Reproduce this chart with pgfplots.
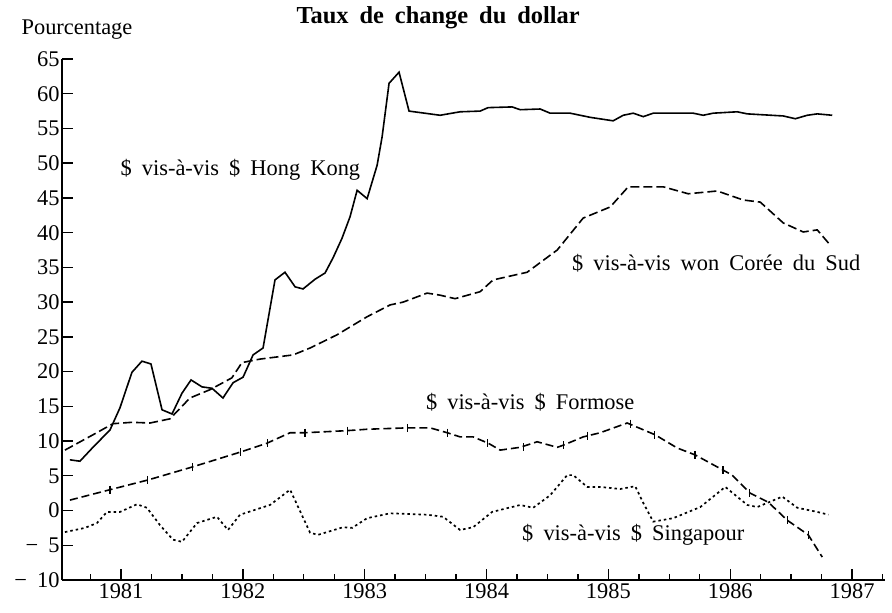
\documentclass[border=0pt]{standalone}
\usepackage{pgfplots}
\pgfplotsset{compat=1.18}
\usepackage{fontspec}
\setmainfont{Liberation Serif}[WordSpace=1.8]
\newcommand\fs{\fontsize{22.5}{26}\selectfont}
\begin{document}
\begin{tikzpicture}
\begin{axis}[
  at={(0,0)}, anchor=south west,
  scale only axis, width=823bp, height=521bp,
  xmin=1980.516, xmax=1987.27, ymin=-10, ymax=65,
  axis lines*=left,
  axis line style={line width=2bp},
  xtick={1981,1982,1983,1984,1985,1986,1987},
  minor xtick={1980.75,1981.25,1981.5,1981.75,1982.25,1982.5,1982.75,1983.25,1983.5,1983.75,1984.25,1984.5,1984.75,1985.25,1985.5,1985.75,1986.25,1986.5,1986.75,1987.25},
  ytick={-10,-5,0,5,10,15,20,25,30,35,40,45,50,55,60,65},
  yticklabels={{−\ 10},{−\ 5},0,5,10,15,20,25,30,35,40,45,50,55,60,65},
  tick align=inside,
  major tick length=11bp, minor tick length=6bp,
  tick style={line width=1.4bp, black},
  ticklabel style={font=\fs},
  yticklabel style={xshift=1bp},
  /pgf/number format/assume math mode=true,
  /pgf/number format/1000 sep={},
  clip=false,
]
% Hong Kong
\addplot[black, line width=1.6bp] table {
1980.581 7.3
1980.663 7.1
1980.770 9.1
1980.910 11.6
1980.992 14.8
1981.090 19.9
1981.172 21.5
1981.246 21.1
1981.337 14.5
1981.419 13.9
1981.501 16.9
1981.575 18.8
1981.665 17.8
1981.747 17.6
1981.837 16.2
1981.920 18.4
1982.002 19.2
1982.084 22.4
1982.166 23.4
1982.264 33.2
1982.346 34.3
1982.429 32.2
1982.494 31.9
1982.593 33.3
1982.675 34.2
1982.741 36.4
1982.814 39.2
1982.880 42.3
1982.938 46.1
1983.020 44.9
1983.102 49.7
1983.143 53.8
1983.200 61.5
1983.282 63.1
1983.364 57.5
1983.619 56.9
1983.783 57.4
1983.947 57.5
1984.013 58.0
1984.210 58.1
1984.276 57.7
1984.440 57.8
1984.522 57.2
1984.686 57.2
1984.851 56.6
1985.039 56.1
1985.122 56.9
1985.204 57.2
1985.286 56.7
1985.368 57.2
1985.696 57.2
1985.778 56.9
1985.860 57.2
1986.057 57.4
1986.140 57.1
1986.435 56.8
1986.534 56.4
1986.632 56.9
1986.714 57.1
1986.837 56.9
};
% Coree du Sud
\addplot[black, line width=1.6bp, dash pattern=on 9bp off 4bp] table {
1980.540 8.7
1980.770 10.9
1980.934 12.5
1981.090 12.7
1981.238 12.6
1981.402 13.2
1981.566 16.2
1981.731 17.4
1981.910 19.1
1981.993 21.3
1982.141 21.8
1982.412 22.4
1982.552 23.4
1982.773 25.3
1983.020 27.9
1983.209 29.6
1983.315 30.0
1983.512 31.3
1983.619 31.0
1983.742 30.5
1983.947 31.5
1984.054 33.2
1984.333 34.3
1984.580 37.5
1984.793 42.1
1985.015 43.7
1985.163 46.6
1985.450 46.6
1985.655 45.6
1985.893 46.0
1986.107 44.7
1986.246 44.4
1986.435 41.4
1986.599 40.1
1986.714 40.4
1986.821 38.2
};
% Formose
\addplot[black, line width=1.6bp, dash pattern=on 8bp off 4bp] table {
1980.581 1.5
1980.910 3.0
1981.222 4.4
1981.591 6.3
1981.977 8.4
1982.199 9.7
1982.388 11.2
1982.511 11.2
1982.856 11.5
1983.020 11.7
1983.348 11.9
1983.537 11.9
1983.677 11.2
1983.783 10.6
1983.890 10.6
1984.013 9.7
1984.112 8.7
1984.276 9.1
1984.415 9.9
1984.580 9.1
1984.629 9.4
1984.793 10.6
1984.933 11.2
1985.154 12.6
1985.195 12.3
1985.384 10.9
1985.565 9.0
1985.713 8.0
1985.943 5.8
1986.016 5.1
1986.164 2.5
1986.312 1.2
1986.468 -1.4
1986.640 -3.5
1986.755 -6.7
};
\addplot[black, only marks, mark=|, mark size=4bp, mark options={line width=1.2bp}] table {
1980.91 3.0
1981.22 4.4
1981.59 6.3
1981.98 8.4
1982.20 9.7
1982.51 11.2
1982.86 11.5
1983.35 11.9
1983.68 11.2
1984.01 9.7
1984.30 9.1
1984.63 9.4
1984.83 10.8
1985.18 12.5
1985.38 10.9
1985.71 8.0
1985.94 5.8
1986.16 2.5
1986.47 -1.4
1986.64 -3.5
};
% Singapour
\addplot[black, line width=1.7bp, dash pattern=on 2.5bp off 3bp] table {
1980.540 -3.1
1980.704 -2.5
1980.803 -1.8
1980.885 -0.2
1980.992 -0.2
1981.131 0.9
1981.213 0.4
1981.320 -2.1
1981.427 -4.2
1981.501 -4.5
1981.624 -1.8
1981.788 -0.9
1981.878 -2.8
1981.977 -0.6
1982.223 0.8
1982.388 3.0
1982.552 -3.2
1982.617 -3.5
1982.823 -2.4
1982.897 -2.5
1983.020 -1.1
1983.209 -0.4
1983.512 -0.6
1983.644 -0.9
1983.783 -2.8
1983.890 -2.4
1984.046 -0.2
1984.276 0.8
1984.383 0.4
1984.522 2.2
1984.662 5.1
1984.711 5.1
1984.826 3.4
1984.933 3.4
1985.097 3.1
1985.220 3.5
1985.286 1.1
1985.368 -1.6
1985.532 -1.1
1985.754 0.5
1985.959 3.4
1986.140 0.8
1986.222 0.5
1986.427 2.0
1986.550 0.4
1986.714 -0.2
1986.805 -0.6
};
\node[font=\fs] at (axis cs:1981.98,49) {\$ vis-à-vis \$ Hong Kong};
\node[font=\fs] at (axis cs:1985.885,35.6) {\$ vis-à-vis won Corée du Sud};
\node[font=\fs] at (axis cs:1984.358,15.6) {\$ vis-à-vis \$ Formose};
\node[font=\fs] at (axis cs:1985.204,-3.5) {\$ vis-à-vis \$ Singapour};
\node[font=\fs] at (axis cs:1980.639,69.2) {Pourcentage};
\node[font=\fontsize{24.5}{28}\selectfont\bfseries] at (axis cs:1983.603,70.9) {Taux de change du dollar};
\end{axis}
\pgfresetboundingbox
\path[use as bounding box] (-62bp,-33bp) rectangle (830bp,580bp);
\end{tikzpicture}
\end{document}
